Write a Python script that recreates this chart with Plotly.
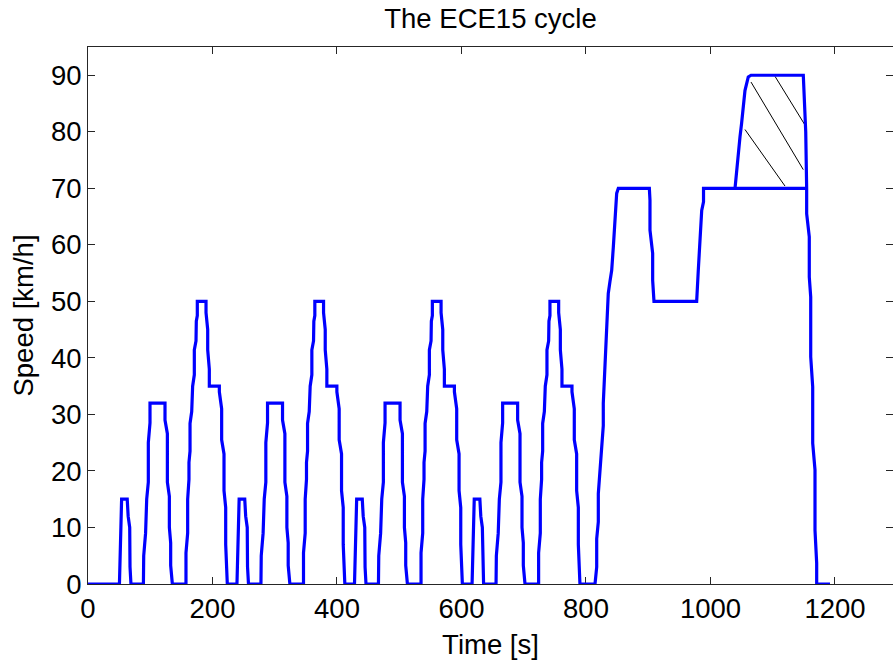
import plotly.graph_objects as go

# ---- data ----
# one ECE15 elementary urban cycle (times relative to the first cycle)
ece_time_s = [50.5, 54, 63, 64.5, 67, 67.5, 69,
              89, 89.5, 92.5, 94.3, 96.9, 96.9, 99.6, 99.6,
              123.7, 123.7, 127.5, 127.5, 130.7, 130.7, 132.8, 132.8, 135.5,
              157.4, 157.4, 160.1, 160.1, 162.2, 162.2, 163.9, 163.9, 166.6, 168.1,
              170.8, 170.8, 173.5, 174, 175.6, 175.6,
              189.6, 189.6, 192.3, 192.3, 194.9, 194.9,
              211, 211, 214.7, 214.7, 218.5, 218.5, 221.2, 221.2, 223.8]
ece_speed_kmh = [0, 15, 15, 12, 10, 3, 0,
                 0, 5, 9, 15, 18, 25, 28.5, 32,
                 32, 29, 26.6, 18, 15.5, 10, 7.3, 3.3, 0,
                 0, 5.5, 9, 15, 18.5, 21.5, 23.5, 28.4, 30.5, 35,
                 37, 41.4, 43, 46.5, 47.5, 50,
                 50, 48, 45, 41.4, 38, 35,
                 35, 34, 31, 25.5, 23, 16.5, 13.5, 7, 0]
# start shift of each of the four repeated urban cycles
cycle_shift_s = [0, 188.8, 377.6, 566.5]

# extra-urban part
eudc_time_s = [814.5, 817.2, 817.2, 819.8, 819.8, 822.5, 825, 827.8, 827.8, 830.6, 833.3, 835.8,
               838.5, 841.3, 843.9, 846.6, 849.3, 851.9, 901.8, 902.8, 902.8, 907.1, 907.1, 909.2,
               977.8, 980.4, 983.1, 985.9, 988.8, 988.8, 1039.4, 1042, 1044.6, 1047.4, 1050,
               1052.7, 1055.4, 1060.7, 1065.1, 1149.1, 1151.8, 1153, 1154.5, 1154.5, 1158.7,
               1158.7, 1161, 1161, 1164.2, 1164.2, 1167.9, 1167.9, 1170.6, 1170.6, 1192]
eudc_speed_kmh = [0, 3, 8, 11, 16, 19.6, 24, 28, 32, 39, 44.5, 51.4,
                  53.5, 55.5, 59.6, 64.4, 69.1, 70, 70, 67.9, 62.6, 58.5, 53.7, 50,
                  50, 55.5, 61.4, 66.1, 67.6, 70, 70, 73.2, 76.7, 79.1, 81.5,
                  84.4, 87.3, 89.7, 90, 90, 84, 80, 70, 65.5, 61.4,
                  54.3, 50.8, 40.2, 34.9, 24.9, 20.2, 9.5, 3.7, 0, 0]

# base of the hatched area
base_time_s = [1039.4, 1154.5]
base_speed_kmh = [70, 70]

# hatch strokes (start / end)
hatch_t0 = [1103.7, 1065.1, 1055.4]
hatch_v0 = [89.8, 88.8, 80.4]
hatch_t1 = [1151.8, 1149.1, 1119.7]
hatch_v1 = [81.2, 73.3, 70.4]

x_ticks = [0, 200, 400, 600, 800, 1000, 1200]
y_ticks = [0, 10, 20, 30, 40, 50, 60, 70, 80, 90]

# ---- assemble ----
time_s = [0.0]
speed = [0.0]
for sh in cycle_shift_s:
    time_s += [t + sh for t in ece_time_s]
    speed += list(ece_speed_kmh)
time_s += eudc_time_s
speed += eudc_speed_kmh

hx, hy = [], []
for a, b, c, d in zip(hatch_t0, hatch_v0, hatch_t1, hatch_v1):
    hx += [a, c, None]
    hy += [b, d, None]

FONT = "Liberation Sans, Arial, sans-serif"
BLUE = "#0000FF"
FS = 27.5

fig = go.Figure()
fig.add_trace(go.Scatter(x=hx, y=hy, mode="lines",
                         line=dict(color="black", width=1), showlegend=False,
                         hoverinfo="skip"))
fig.add_trace(go.Scatter(x=base_time_s, y=base_speed_kmh, mode="lines",
                         line=dict(color=BLUE, width=3.2), showlegend=False,
                         cliponaxis=False))
fig.add_trace(go.Scatter(x=time_s, y=speed, mode="lines",
                         line=dict(color=BLUE, width=3.2), showlegend=False,
                         cliponaxis=False))
fig.add_trace(go.Scatter(x=[None], y=[None], yaxis="y2", showlegend=False))

fig.update_layout(
    width=893, height=662,
    margin=dict(l=88, r=0, t=47, b=78, pad=0),
    paper_bgcolor="white", plot_bgcolor="white",
    font=dict(family=FONT, size=FS, color="black"),
    title=dict(text="The ECE15 cycle", x=0.5, xref="paper", xanchor="center",
               y=1 - 18 / 662, yref="container", yanchor="middle",
               font=dict(family=FONT, size=FS, color="black")),
    xaxis=dict(range=[0, 1293.2], tickvals=x_ticks, ticks="inside", ticklen=7,
               tickcolor="#262626", showline=True, linecolor="#262626", linewidth=1,
               mirror="ticks", showgrid=False, zeroline=False, layer="below traces",
               tickfont=dict(family=FONT, size=FS, color="black"),
               title=dict(text="Time [s]", standoff=11,
                          font=dict(family=FONT, size=FS, color="black"))),
    yaxis=dict(range=[0, 95], tickvals=y_ticks, ticks="inside", ticklen=7,
               tickcolor="#262626", showline=True, linecolor="#262626", linewidth=1,
               mirror=False, showgrid=False, zeroline=False, layer="below traces",
               tickfont=dict(family=FONT, size=FS, color="black"),
               title=dict(text="Speed [km/h]", standoff=9,
                          font=dict(family=FONT, size=FS, color="black"))),
    yaxis2=dict(range=[0, 95], tickvals=y_ticks, ticks="inside", ticklen=7,
                tickcolor="#262626", overlaying="y", side="right",
                showticklabels=False, showline=False, showgrid=False,
                zeroline=False, layer="below traces"),
)

fig.write_html("out.html", config={"displayModeBar": False},
               post_script="document.body.style.margin='0';document.body.style.overflow='hidden';")
